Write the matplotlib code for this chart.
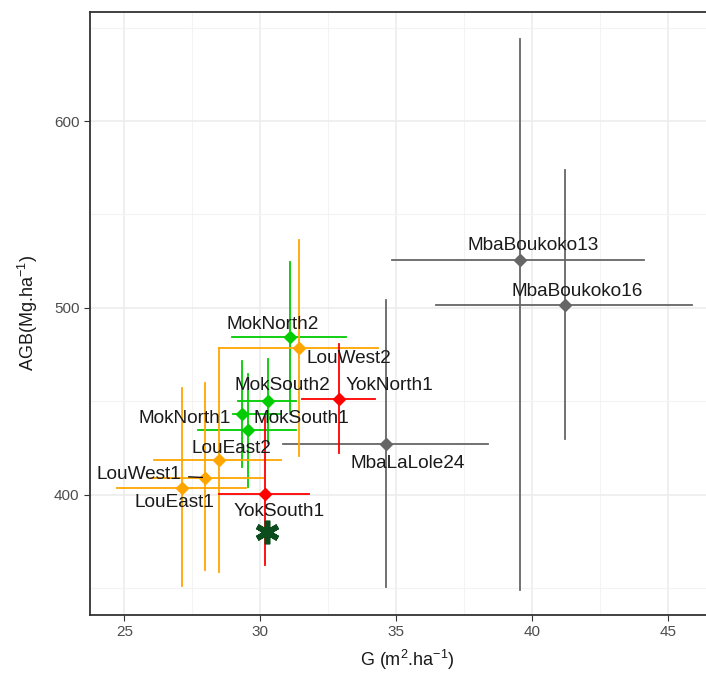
import matplotlib.pyplot as plt
from matplotlib.ticker import MultipleLocator

plt.rcParams['font.family'] = ['Liberation Sans', 'DejaVu Sans']
plt.rcParams['mathtext.default'] = 'regular'

# Parcelles : surface terriere (G) et biomasse aerienne (AGB) avec intervalles
sites = ['MbaBoukoko13', 'MbaBoukoko16', 'MbaLaLole24', 'MokNorth2', 'LouWest2',
         'YokNorth1', 'MokSouth2', 'MokNorth1', 'MokSouth1', 'LouEast2',
         'LouWest1', 'LouEast1', 'YokSouth1']
g = [39.55, 41.2, 34.61, 31.08, 31.44, 32.91, 30.27, 29.33, 29.54, 28.47, 27.98, 27.12, 30.18]
agb = [525.7, 501.6, 427.1, 484.3, 478.4, 451.2, 450.4, 443.2, 434.8, 418.5, 409.3, 403.6, 400.4]
g_lo = [34.84, 36.45, 30.83, 28.96, 28.47, 31.54, 29.17, 29.0, 27.73, 26.1, 26.0, 24.75, 28.49]
g_hi = [44.13, 45.9, 38.38, 33.16, 34.33, 34.23, 31.31, 30.77, 31.32, 30.77, 30.15, 29.48, 31.81]
agb_lo = [349.2, 430.0, 350.8, 443.2, 420.9, 422.6, 428.0, 415.2, 404.5, 359.0, 359.7, 351.5, 362.6]
agb_hi = [643.7, 573.8, 504.3, 524.4, 536.4, 480.6, 472.6, 471.8, 464.7, 478.5, 459.9, 457.4, 442.0]

# Point de reference (asterisque)
ref_g = [30.25]
ref_agb = [380.4]

couleurs = {'Mba': '#666666', 'Mok': '#00CC00', 'Lou': '#FFA500', 'Yok': '#FF0000'}

# Decalage des etiquettes (pixels) par rapport au point
decalages = {'MbaBoukoko13': (13, 14), 'MbaBoukoko16': (13, 13), 'MbaLaLole24': (22, -19),
             'MokNorth2': (-17, 13), 'LouWest2': (50, -10), 'YokNorth1': (50, 14),
             'MokSouth2': (15, 15), 'MokNorth1': (-57, -4), 'MokSouth1': (54, 11),
             'LouEast2': (13, 12), 'LouWest1': (-66, 3), 'LouEast1': (-7, -14),
             'YokSouth1': (14, -17)}

fig = plt.figure(figsize=(7.06, 6.73), dpi=100)
ax = fig.add_axes([90 / 706, 58 / 673, 634 / 706, 603 / 673])

for i, s in enumerate(sites):
    c = couleurs[s[:3]]
    ax.plot([g[i], g[i]], [agb_lo[i], agb_hi[i]], color=c, lw=1.3, zorder=2)
    ax.plot([g_lo[i], g_hi[i]], [agb[i], agb[i]], color=c, lw=1.3, zorder=2)
    ax.plot(g[i], agb[i], marker='D', color=c, markersize=6.5, zorder=3, linestyle='none')

for i, s in enumerate(sites):
    dx, dy = decalages[s]
    flecha = None
    if s == 'LouWest1':
        flecha = dict(arrowstyle='-', color='black', lw=0.9, shrinkA=3, shrinkB=2)
    ax.annotate(s, (g[i], agb[i]), xytext=(dx, dy), textcoords='offset pixels',
                ha='center', va='center', fontsize=13.7, color='#1a1a1a',
                arrowprops=flecha, zorder=4)

ax.plot(ref_g, ref_agb, marker=(6, 2, 0), markersize=17, markeredgewidth=4,
        color='#0b4d1c', linestyle='none', zorder=5)

ax.set_xlim(23.74, 47.06)
ax.set_ylim(335.8, 658.3)
ax.xaxis.set_major_locator(MultipleLocator(5))
ax.xaxis.set_minor_locator(MultipleLocator(2.5))
ax.yaxis.set_major_locator(MultipleLocator(100))
ax.yaxis.set_minor_locator(MultipleLocator(50))
ax.grid(which='major', color='#ebebeb', lw=1.1, zorder=0)
ax.grid(which='minor', color='#f3f3f3', lw=0.8, zorder=0)
ax.set_axisbelow(True)
ax.tick_params(which='major', length=4, color='#333333', labelcolor='#4d4d4d', labelsize=11)
ax.tick_params(which='minor', length=0)
for sp in ax.spines.values():
    sp.set_color('#333333')
    sp.set_linewidth(1.3)

ax.set_xlabel('G (m$^{2}$.ha$^{-1}$)', fontsize=13, color='#1a1a1a', labelpad=6)
ax.set_ylabel('AGB(Mg.ha$^{-1}$)', fontsize=13, color='#1a1a1a', labelpad=10)

fig.savefig('out.png', dpi=100)
